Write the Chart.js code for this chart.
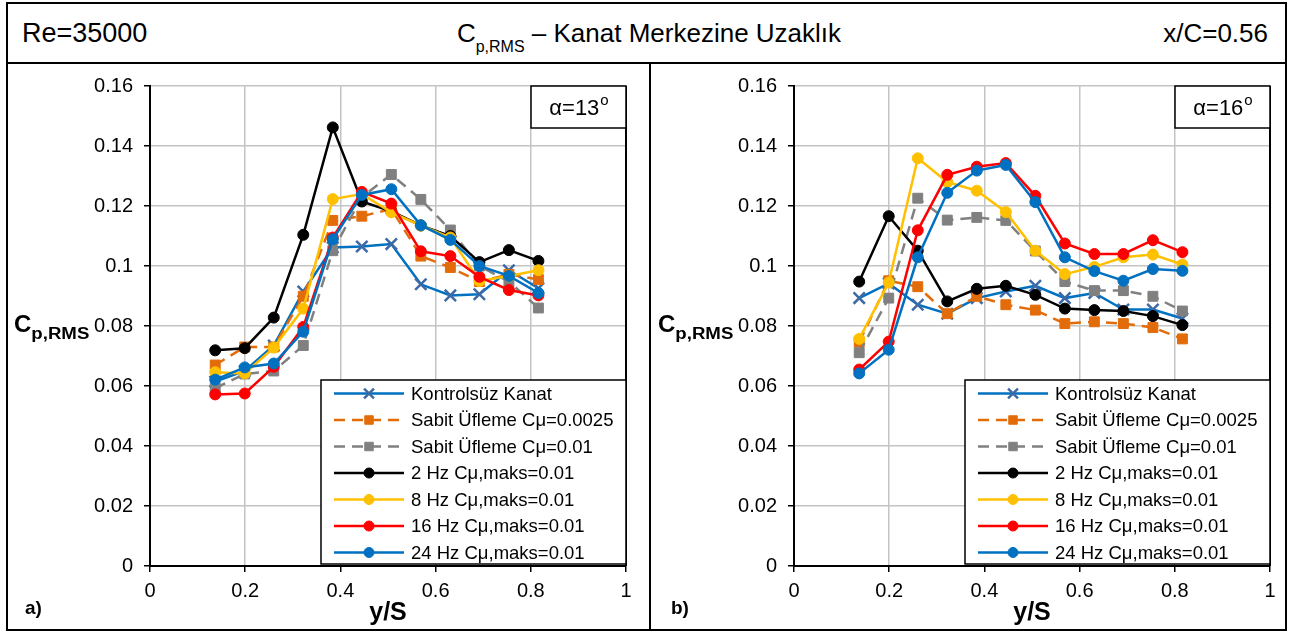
<!DOCTYPE html>
<html>
<head>
<meta charset="utf-8">
<script src="https://cdn.jsdelivr.net/npm/chart.js@4.4.1/dist/chart.umd.min.js"></script>
<style>
  body { margin: 0; width: 1290px; height: 633px; background: #fff; position: relative; overflow: hidden;
         font-family: "Liberation Sans", Arial, sans-serif; color: #000; }
  .wrap { position: absolute; top: 63px; height: 570px; }
  .line { position: absolute; background: #000; z-index: 5; }
  .head { position: absolute; top: 4px; height: 58px; line-height: 58px; font-size: 26px; white-space: nowrap; }
  .head sub { font-size: 16px; vertical-align: -10px; line-height: 0; }
</style>
</head>
<body>
<div class="wrap" style="left:0;width:652px"><canvas id="chartA" width="652" height="570"></canvas></div>
<div class="wrap" style="left:652px;width:638px"><canvas id="chartB" width="638" height="570"></canvas></div>

<!-- frame -->
<div class="line" style="left:6px;top:2px;width:1281px;height:2px"></div>
<div class="line" style="left:6px;top:629px;width:1281px;height:2px"></div>
<div class="line" style="left:6px;top:2px;width:2px;height:629px"></div>
<div class="line" style="left:1285px;top:2px;width:2px;height:629px"></div>
<div class="line" style="left:6px;top:62px;width:1281px;height:2px"></div>
<div class="line" style="left:649px;top:62px;width:2px;height:569px"></div>

<div class="head" style="left:22px;font-size:27px">Re=35000</div>
<div class="head" style="left:0;width:1298px;text-align:center">C<sub>p,RMS</sub> – Kanat Merkezine Uzaklık</div>
<div class="head" style="right:22px">x/C=0.56</div>

<script>
// y/S stations
const yS = [0.137, 0.199, 0.26, 0.322, 0.384, 0.445, 0.507, 0.569, 0.631, 0.692, 0.754, 0.816];

const seriesNames = [
  "Kontrolsüz Kanat",
  "Sabit Üfleme Cμ=0.0025",
  "Sabit Üfleme Cμ=0.01",
  "2 Hz Cμ,maks=0.01",
  "8 Hz Cμ,maks=0.01",
  "16 Hz Cμ,maks=0.01",
  "24 Hz Cμ,maks=0.01",
];

// alpha = 13
const kontrolsuz13 = [0.0615, 0.0650, 0.0735, 0.0915, 0.1062, 0.1065, 0.1073, 0.0939, 0.0902, 0.0906, 0.0986, 0.0926];
const sabit0025_13 = [0.0670, 0.0730, 0.0730, 0.0899, 0.1152, 0.1166, 0.1190, 0.1033, 0.0995, 0.0948, 0.0972, 0.0955];
const sabit001_13  = [0.0593, 0.0640, 0.0650, 0.0735, 0.1051, 0.1230, 0.1305, 0.1222, 0.1120, 0.1000, 0.0948, 0.0860];
const hz2_13       = [0.0719, 0.0726, 0.0828, 0.1104, 0.1462, 0.1215, 0.1182, 0.1135, 0.1100, 0.1013, 0.1053, 0.1017];
const hz8_13       = [0.0646, 0.0642, 0.0728, 0.0858, 0.1223, 0.1240, 0.1179, 0.1135, 0.1095, 0.0950, 0.0967, 0.0986];
const hz16_13      = [0.0572, 0.0575, 0.0664, 0.0797, 0.1095, 0.1247, 0.1208, 0.1049, 0.1033, 0.0964, 0.0920, 0.0902];
const hz24_13      = [0.0621, 0.0662, 0.0675, 0.0781, 0.1089, 0.1237, 0.1256, 0.1136, 0.1087, 0.1000, 0.0967, 0.0910];

// alpha = 16
const kontrolsuz16 = [0.0893, 0.0942, 0.0871, 0.0841, 0.0893, 0.0915, 0.0934, 0.0893, 0.0910, 0.0855, 0.0855, 0.0825];
const sabit0025_16 = [0.0746, 0.0951, 0.0931, 0.0841, 0.0899, 0.0871, 0.0853, 0.0808, 0.0814, 0.0808, 0.0795, 0.0757];
const sabit001_16  = [0.0711, 0.0893, 0.1226, 0.1153, 0.1162, 0.1152, 0.1050, 0.0948, 0.0918, 0.0918, 0.0899, 0.0850];
const hz2_16       = [0.0948, 0.1166, 0.1051, 0.0882, 0.0924, 0.0934, 0.0904, 0.0858, 0.0853, 0.0850, 0.0833, 0.0803];
const hz8_16       = [0.0757, 0.0945, 0.1359, 0.1280, 0.1251, 0.1180, 0.1051, 0.0973, 0.0997, 0.1029, 0.1038, 0.1005];
const hz16_16      = [0.0655, 0.0748, 0.1119, 0.1304, 0.1331, 0.1343, 0.1234, 0.1075, 0.1040, 0.1040, 0.1086, 0.1046];
const hz24_16      = [0.0642, 0.0721, 0.1029, 0.1244, 0.1318, 0.1337, 0.1213, 0.1029, 0.0983, 0.0951, 0.0990, 0.0984];

const xTickLabels = ["0", "0.2", "0.4", "0.6", "0.8", "1"];
const yTickLabels = ["0", "0.02", "0.04", "0.06", "0.08", "0.1", "0.12", "0.14", "0.16"];

const FONT = "'Liberation Sans', Arial, sans-serif";

// line / marker look for each series, same order as seriesNames
const seriesStyles = [
  { color: "#0070C0", marker: "#3D6AA6", pointStyle: "crossRot", radius: 8, dash: [] },
  { color: "#E36C0A", marker: "#E36C0A", pointStyle: "rect", radius: 7, dash: [11, 7] },
  { color: "#808080", marker: "#808080", pointStyle: "rect", radius: 7, dash: [11, 7] },
  { color: "#000000", marker: "#000000", pointStyle: "circle", radius: 5.5, dash: [] },
  { color: "#FFC000", marker: "#FFC000", pointStyle: "circle", radius: 5.5, dash: [] },
  { color: "#FF0000", marker: "#FF0000", pointStyle: "circle", radius: 5.5, dash: [] },
  { color: "#0070C0", marker: "#0070C0", pointStyle: "circle", radius: 5.5, dash: [] },
];

function buildDatasets(seriesValues) {
  return seriesValues.map((vals, i) => {
    const st = seriesStyles[i];
    return {
      label: seriesNames[i],
      data: vals.map((v, k) => ({ x: yS[k], y: v })),
      borderColor: st.color,
      borderWidth: 2.5,
      borderDash: st.dash,
      pointStyle: st.pointStyle,
      pointRadius: st.radius,
      pointBackgroundColor: st.marker,
      pointBorderColor: st.marker,
      pointBorderWidth: st.pointStyle === "crossRot" ? 2.5 : 1,
      tension: 0,
      order: seriesValues.length - i, // later series on top, as in the original
    };
  });
}

// extras: right frame line, alpha box, legend, horizontal y title, panel letter
const panelDecor = {
  id: "panelDecor",
  afterDraw(chart, args, opts) {
    const ctx = chart.ctx;
    const a = chart.chartArea;
    ctx.save();

    ctx.strokeStyle = "#000";
    ctx.lineWidth = 2;
    ctx.beginPath();
    ctx.moveTo(a.right, a.top);
    ctx.lineTo(a.right, a.bottom);
    ctx.stroke();

    // alpha box
    const abW = 95, abH = 42;
    ctx.fillStyle = "#fff";
    ctx.fillRect(a.right - abW, a.top, abW, abH);
    ctx.lineWidth = 1.5;
    ctx.strokeRect(a.right - abW, a.top, abW, abH);
    ctx.fillStyle = "#000";
    ctx.textBaseline = "alphabetic";
    ctx.textAlign = "left";
    const main = "α=" + opts.angle;
    ctx.font = "22px " + FONT;
    const w1 = ctx.measureText(main).width;
    ctx.font = "15px " + FONT;
    const w2 = ctx.measureText("o").width;
    const tx = a.right - abW / 2 - (w1 + w2) / 2;
    ctx.font = "22px " + FONT;
    ctx.fillText(main, tx, a.top + 29);
    ctx.font = "15px " + FONT;
    ctx.fillText("o", tx + w1 + 1, a.top + 19);

    // legend
    const bw = 305, bh = 184;
    const bx = a.right - bw, by = a.bottom - 2 - bh;
    ctx.fillStyle = "#fff";
    ctx.fillRect(bx, by, bw, bh);
    ctx.strokeStyle = "#000";
    ctx.lineWidth = 1.5;
    ctx.strokeRect(bx, by, bw, bh);
    chart.data.datasets.forEach((ds, i) => {
      const cy = by + 13.5 + i * 26.5;
      ctx.setLineDash(ds.borderDash);
      ctx.strokeStyle = ds.borderColor;
      ctx.lineWidth = ds.borderWidth;
      ctx.beginPath();
      ctx.moveTo(bx + 13, cy);
      ctx.lineTo(bx + 83, cy);
      ctx.stroke();
      ctx.setLineDash([]);
      ctx.fillStyle = ds.pointBackgroundColor;
      ctx.strokeStyle = ds.pointBorderColor;
      ctx.lineWidth = ds.pointBorderWidth;
      Chart.helpers.drawPoint(ctx, {
        pointStyle: ds.pointStyle,
        radius: ds.pointStyle === "circle" ? 5 : ds.pointRadius - 1,
        rotation: 0,
        borderWidth: ds.pointBorderWidth,
      }, bx + 48, cy);
      ctx.fillStyle = "#000";
      ctx.font = "18.5px " + FONT;
      ctx.textAlign = "left";
      ctx.textBaseline = "middle";
      ctx.fillText(ds.label, bx + 90, cy + 1);
    });

    // y axis title, horizontal with subscript
    const yMid = chart.scales.y.getPixelForValue(0.08);
    ctx.fillStyle = "#000";
    ctx.textBaseline = "alphabetic";
    ctx.textAlign = "left";
    ctx.font = "bold 24px " + FONT;
    ctx.fillText("C", opts.titleX, yMid + 6);
    const cw = ctx.measureText("C").width;
    ctx.font = "bold 16px " + FONT;
    const sw = ctx.measureText("p,RMS").width;
    const sx = opts.titleX + cw;
    ctx.translate(sx, yMid + 13);
    ctx.scale(58 / sw, 1);
    ctx.fillText("p,RMS", 0, 0);
    ctx.setTransform(1, 0, 0, 1, 0, 0);

    // panel letter
    ctx.font = "bold 19px " + FONT;
    ctx.fillText(opts.label, opts.labelX, 551);

    ctx.restore();
  },
};

function makeChart(id, seriesValues, opts) {
  const ctx = document.getElementById(id).getContext("2d");
  return new Chart(ctx, {
    type: "line",
    data: { datasets: buildDatasets(seriesValues) },
    plugins: [panelDecor],
    options: {
      responsive: false,
      animation: false,
      layout: { padding: { top: 13, right: opts.padRight, left: 0, bottom: 0 } },
      plugins: {
        legend: { display: false },
        tooltip: { enabled: false },
        panelDecor: opts,
      },
      scales: {
        x: {
          type: "linear",
          min: 0,
          max: 1,
          afterFit: (s) => { s.height = 67; },
          ticks: {
            stepSize: 0.2,
            color: "#000",
            font: { family: FONT, size: 20 },
            padding: 7,
            maxRotation: 0,
            callback: (v) => xTickLabels[Math.round(v / 0.2)],
          },
          grid: { color: "#C4C4C4", lineWidth: 1.5, tickLength: 6, tickColor: "#000", tickWidth: 1.5 },
          border: { color: "#000", width: 2 },
          title: {
            display: true,
            text: "y/S",
            color: "#000",
            font: { family: FONT, size: 25, weight: "bold" },
            padding: { top: 0, bottom: 5 },
          },
        },
        y: {
          min: 0,
          max: 0.16,
          afterFit: (s) => { s.width = opts.yWidth; },
          ticks: {
            stepSize: 0.02,
            color: "#000",
            font: { family: FONT, size: 20 },
            padding: 11,
            callback: (v) => yTickLabels[Math.round(v / 0.02)],
          },
          grid: { color: "#C4C4C4", lineWidth: 1.5, tickLength: 6, tickColor: "#000", tickWidth: 1.5 },
          border: { color: "#000", width: 2 },
        },
      },
    },
  });
}

makeChart("chartA",
  [kontrolsuz13, sabit0025_13, sabit001_13, hz2_13, hz8_13, hz16_13, hz24_13],
  { angle: "13", label: "a)", titleX: 14, labelX: 25, yWidth: 150, padRight: 26 });

makeChart("chartB",
  [kontrolsuz16, sabit0025_16, sabit001_16, hz2_16, hz8_16, hz16_16, hz24_16],
  { angle: "16", label: "b)", titleX: 6, labelX: 19, yWidth: 142, padRight: 20 });
</script>
</body>
</html>
